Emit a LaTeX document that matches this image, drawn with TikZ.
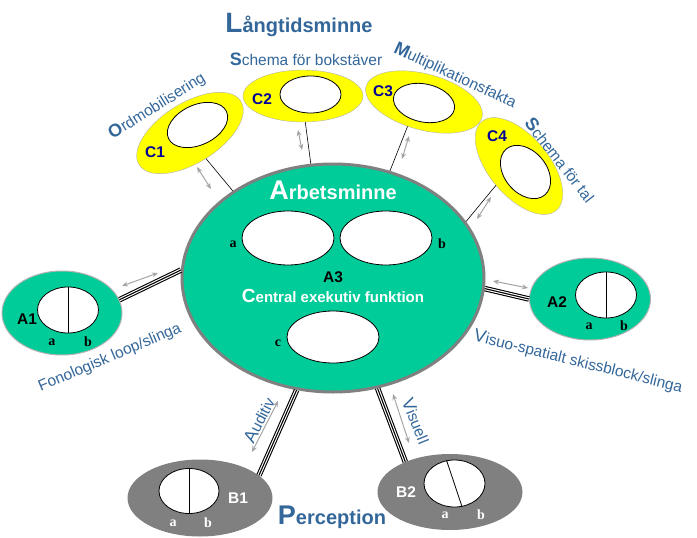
\documentclass[tikz,border=0pt]{standalone}
\usepackage{fontspec}
\setmainfont{Liberation Sans}
\newfontfamily\timesfont{Liberation Serif}
\usetikzlibrary{shapes.geometric,arrows.meta}
\definecolor{WorkClr}{RGB}{0,204,153}
\definecolor{LongClr}{RGB}{255,255,0}
\definecolor{PercClr}{RGB}{128,128,128}
\definecolor{TextClr}{RGB}{51,102,153}
\definecolor{CodeClr}{RGB}{0,0,153}
\definecolor{ArrowClr}{RGB}{165,165,165}

\begin{document}
\begin{tikzpicture}[x=1pt,y=-1pt,
  oval/.style 2 args={ellipse,inner sep=0pt,minimum width=#1,minimum height=#2},
  hole/.style={fill=white,draw=black,line width=0.8pt},
  lbl/.style={text=TextClr,font=\fontsize{15.5}{15.5}\selectfont,inner sep=0pt},
  tag/.style={font=\bfseries\fontsize{15.5}{15.5}\selectfont,inner sep=0pt},
  part/.style={font=\timesfont\bfseries\fontsize{14}{14}\selectfont,inner sep=0pt},
  link/.style={line width=0.6pt},
  wire/.style={line width=1.1pt,double,double distance=3.3pt},
  swap/.style={ArrowClr,line width=1pt,{Stealth[length=6pt,width=5pt]}-{Stealth[length=6pt,width=5pt]}}]
\useasboundingbox (0,0) rectangle (697,538);

\node[oval={302pt}{228pt},fill=WorkClr,draw=PercClr,line width=3pt] (main) at (333,278) {};
\node[oval={92pt}{54pt},hole] (ina) at (288,238) {};
\node[oval={92pt}{54pt},hole] (inb) at (386,238) {};
\node[oval={92pt}{52pt},hole] (inc) at (333,337) {};
\node[part] (pa) at (233,244) {a};
\node[part] (pb) at (442,244) {b};
\node[part] (pc) at (278,343) {c};
\node[tag,anchor=base] (a3) at (333,282) {A3};
\node[anchor=base,text=white,font=\bfseries\fontsize{15}{15}\selectfont] (cef) at (333,302) {{\fontsize{19}{19}\selectfont C}entral exekutiv funktion};
\node[anchor=base,text=white,font=\bfseries\fontsize{20}{20}\selectfont] (arb) at (333,199) {{\fontsize{27}{27}\selectfont A}rbetsminne};

\node[oval={120pt}{60pt},rotate=32,fill=LongClr,draw=gray!60] (c1) at (190,133) {};
\node[oval={64pt}{40pt},rotate=25,hole] (c1in) at (197.5,125) {};
\node[tag,text=CodeClr] (c1tag) at (155,152) {C1};
\node[oval={120pt}{52pt},fill=LongClr,draw=gray!60] (c2) at (303,96) {};
\node[oval={61pt}{37pt},hole] (c2in) at (310.5,94.5) {};
\node[tag,text=CodeClr] (c2tag) at (262,99) {C2};
\node[oval={120pt}{56pt},rotate=-15,fill=LongClr,draw=gray!60] (c3) at (424,102) {};
\node[oval={62pt}{38pt},rotate=-12,hole] (c3in) at (424,103) {};
\node[tag,text=CodeClr] (c3tag) at (383,91) {C3};
\node[oval={116pt}{60pt},rotate=-50,fill=LongClr,draw=gray!60] (c4) at (519,166) {};
\node[oval={60pt}{42pt},rotate=-50,hole] (c4in) at (525.5,172) {};
\node[tag,text=CodeClr] (c4tag) at (497,136) {C4};

\draw[link] (c1.south) -- (main.139);
\draw[link] (c2.-85) -- (main.101);
\draw[link] (c3.-109) -- (main.62);
\draw[link] (c4.south) -- (main.23);

\node[oval={120pt}{84pt},fill=WorkClr,draw=gray!60,line width=1pt] (a1) at (62,313) {};
\node[oval={61pt}{46pt},hole] (a1in) at (68,310) {};
\draw[line width=0.8pt] (a1in.north) -- (a1in.south);
\node[tag] (a1tag) at (27,319) {A1};
\node[part] (a1a) at (52,342) {a};
\node[part] (a1b) at (88,342) {b};

\node[oval={121pt}{82pt},fill=WorkClr,draw=gray!60,line width=1pt] (a2) at (590,299) {};
\node[oval={61pt}{46pt},hole] (a2in) at (606,295) {};
\draw[line width=0.8pt] (a2in.north) -- (a2in.south);
\node[tag] (a2tag) at (557,302) {A2};
\node[part] (a2a) at (589,326) {a};
\node[part] (a2b) at (624,326) {b};

\node[oval={145pt}{77pt},fill=PercClr] (b1) at (200,498) {};
\node[oval={60pt}{45pt},hole] (b1in) at (189,491) {};
\draw[line width=0.8pt] (b1in.north) -- (b1in.south);
\node[tag,text=white] (b1tag) at (238,498) {B1};
\node[part,text=white] (b1a) at (173,523) {a};
\node[part,text=white] (b1b) at (208,523) {b};

\node[oval={145pt}{76pt},fill=PercClr] (b2) at (450,492) {};
\node[oval={61pt}{47pt},hole] (b2in) at (454.5,483.5) {};
\draw[line width=0.8pt] (b2in.109) -- (b2in.-72);
\node[tag,text=white] (b2tag) at (406,492) {B2};
\node[part,text=white] (b2a) at (445,515) {a};
\node[part,text=white] (b2b) at (481,515) {b};

\foreach \p/\q in {a1.13/main.177, a2.180/main.-4, b1.21/main.-108, b2.146/main.-68}{
  \draw[wire] (\p) -- (\q);
  \draw[line width=1.1pt] (\p) -- (\q);
}

\foreach \s/\e in {{197,167}/{211,189}, {298,130}/{302,150}, {409,136}/{402,159}, {491,197}/{477,219},
  {122,286}/{158,273}, {493,281}/{528,288}, {278,401}/{252,452}, {393,394}/{409,443}}
  \draw[swap] (\s) -- (\e);

\node[anchor=base,text=TextClr,font=\bfseries\fontsize{20}{20}\selectfont] (ltm) at (299,32) {{\fontsize{28}{28}\selectfont L}ångtidsminne};
\node[anchor=base,text=TextClr,font=\bfseries\fontsize{20}{20}\selectfont] (perc) at (332,524) {{\fontsize{27}{27}\selectfont P}erception};

\node[lbl,anchor=base] (bokst) at (306,65) {{\bfseries\fontsize{18}{18}\selectfont S}chema för bokstäver};
\node[lbl,rotate=32] (ordm) at (157,106) {{\bfseries\fontsize{18}{18}\selectfont O}rdmobilisering};
\node[lbl,rotate=-25] (mult) at (455,76) {{\bfseries\fontsize{18}{18}\selectfont M}ultiplikationsfakta};
\node[lbl,rotate=-52] (tal) at (560,160) {{\bfseries\fontsize{18}{18}\selectfont S}chema för tal};
\node[lbl,rotate=23] (fon) at (110,358) {Fonologisk loop/slinga};
\node[lbl,rotate=-14] (visuo) at (578,362) {{\fontsize{18}{18}\selectfont V}isuo-spatialt skissblock/slinga};
\node[lbl,rotate=63] (aud) at (259,420) {{\fontsize{18}{18}\selectfont A}uditiv};
\node[lbl,rotate=-68] (vis) at (416,421) {{\fontsize{18}{18}\selectfont V}isuell};
\end{tikzpicture}
\end{document}
